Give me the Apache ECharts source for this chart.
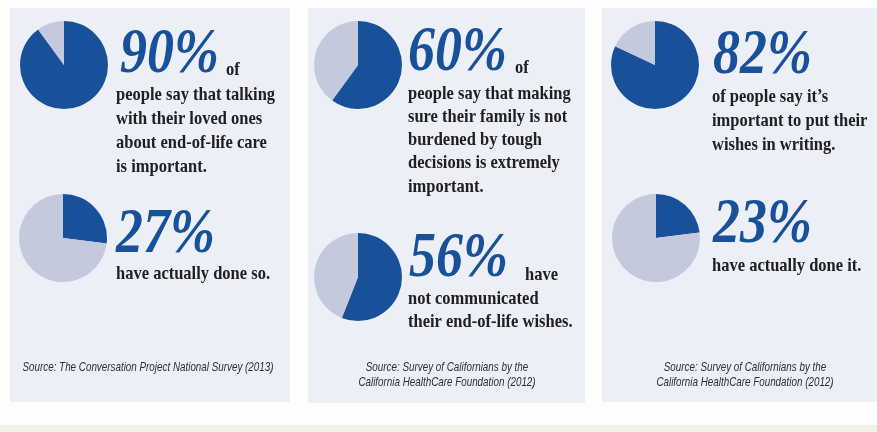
<!DOCTYPE html>
<html>
<head>
<meta charset="utf-8">
<script src="https://cdn.jsdelivr.net/npm/echarts@6/dist/echarts.min.js"></script>
<style>
  html, body { margin: 0; padding: 0; background: #fdfdfc; }
  #chart { width: 877px; height: 432px; }
</style>
</head>
<body>
<div id="chart"></div>
<script>
// ---- data ----
const percentValues = [90, 27, 60, 56, 82, 23];
const percentLabels = ['90%', '27%', '60%', '56%', '82%', '23%'];
const tailWords = ['of', '', 'of', 'have', '', ''];
const bodyLines = [
  ['people say that talking', 'with their loved ones', 'about end-of-life care', 'is important.'],
  ['have actually done so.'],
  ['people say that making', 'sure their family is not', 'burdened by tough', 'decisions is extremely', 'important.'],
  ['not communicated', 'their end-of-life wishes.'],
  ['of people say it\u2019s', 'important to put their', 'wishes in writing.'],
  ['have actually done it.']
];
const sourceLines = [
  ['Source: The Conversation Project National Survey (2013)'],
  ['Source: Survey of Californians by the', 'California HealthCare Foundation (2012)'],
  ['Source: Survey of Californians by the', 'California HealthCare Foundation (2012)']
];

// ---- layout / style ----
const BLUE = '#18519a';
const GRAY = '#c5c9dd';
const PANEL = '#edeff6';
const INK = '#202024';
const SERIF = '"Liberation Serif", "Times New Roman", serif';
const SANS = '"Liberation Sans", Arial, sans-serif';

const panels = [[10, 8, 280, 394], [308, 8, 277, 395], [602, 8, 285, 394]];
const itemLayout = [
  { pie: [64, 65],  num: [120, 77],  tail: [226, 76], body: [116, 101, 24] },
  { pie: [63, 238], num: [116, 257], tail: null,      body: [116, 280, 24] },
  { pie: [358, 65], num: [408, 75],  tail: [515, 74], body: [408, 100, 23.3] },
  { pie: [358, 277],num: [409, 281], tail: [525, 281],body: [408, 305, 23.5] },
  { pie: [655, 65], num: [713, 78],  tail: null,      body: [712, 103.5, 24] },
  { pie: [656, 238],num: [713, 247], tail: null,      body: [712, 272, 24] }
];
const sourceLayout = [[148, 372], [447, 372], [745, 372]];

function textEl(x, base, str, size, family, weight, fstyle, color, sx, sy, align, asc) {
  return {
    type: 'text', x: x, y: base - asc * size * sy, scaleX: sx, scaleY: sy, z: 10, silent: true,
    style: {
      text: str, x: 0, y: 0,
      font: fstyle + ' ' + weight + ' ' + size + 'px ' + family,
      fill: color, align: align, verticalAlign: 'middle',
      textAlign: align, textVerticalAlign: 'middle'
    }
  };
}

const graphics = [];
panels.forEach(p => graphics.push({ type: 'rect', z: -10, silent: true,
  shape: { x: p[0], y: p[1], width: p[2], height: p[3] }, style: { fill: PANEL } }));
graphics.push({ type: 'rect', z: -10, silent: true,
  shape: { x: 0, y: 425, width: 877, height: 7 }, style: { fill: '#f4f2e8' } });

const series = [];
percentValues.forEach((v, i) => {
  const L = itemLayout[i];
  series.push({
    type: 'pie', center: L.pie, radius: 44, startAngle: 90, clockwise: true,
    silent: true, animation: false, label: { show: false }, labelLine: { show: false },
    emphasis: { disabled: true },
    itemStyle: { borderWidth: 0, borderRadius: 0 },
    data: [
      { value: v, itemStyle: { color: BLUE } },
      { value: 100 - v, itemStyle: { color: GRAY } }
    ]
  });
  graphics.push(textEl(L.num[0], L.num[1], percentLabels[i], 54, SERIF, 'bold', 'italic', BLUE, 1, 1.17, 'left', 0.3375));
  if (L.tail && tailWords[i]) {
    graphics.push(textEl(L.tail[0], L.tail[1], tailWords[i], 16.5, SERIF, 'bold', 'normal', INK, 1, 1.12, 'left', 0.3375));
  }
  bodyLines[i].forEach((line, k) => {
    graphics.push(textEl(L.body[0], L.body[1] + k * L.body[2], line, 16.5, SERIF, 'bold', 'normal', INK, 1, 1.12, 'left', 0.3375));
  });
});
sourceLines.forEach((lines, i) => {
  lines.forEach((line, k) => {
    graphics.push(textEl(sourceLayout[i][0], sourceLayout[i][1] + k * 15, line, 12, SANS, 'normal', 'italic', '#2e2e33', 0.82, 1.05, 'center', 0.3465));
  });
});

const chart = echarts.init(document.getElementById('chart'), null, { renderer: 'canvas' });
chart.setOption({
  animation: false,
  backgroundColor: '#fdfdfc',
  series: series,
  graphic: { elements: graphics }
});
</script>
</body>
</html>
